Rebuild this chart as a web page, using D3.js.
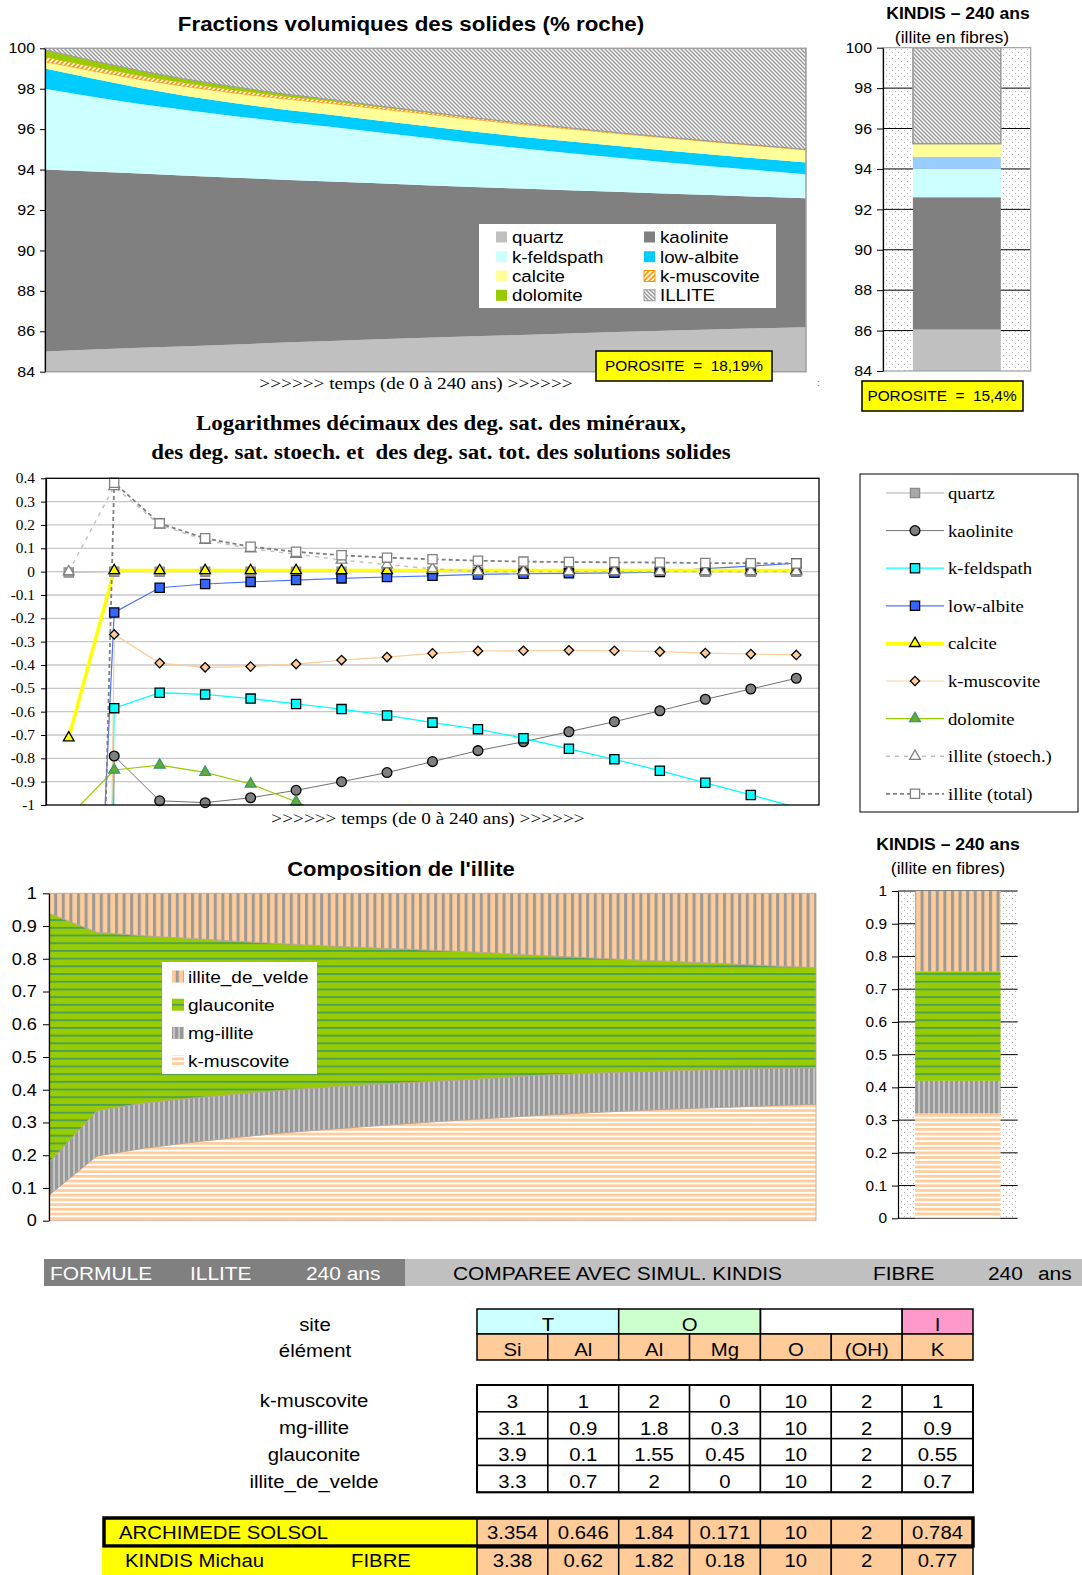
<!DOCTYPE html>
<html><head><meta charset="utf-8">
<script src="https://cdn.jsdelivr.net/npm/d3@7/dist/d3.min.js"></script>
<style>html,body{margin:0;padding:0;background:#fff;overflow:hidden}svg{display:block}</style>
</head><body>
<svg id="chart" width="1082" height="1575"></svg>
<script>
// ================= DATA =================
const years = [0,15,30,45,60,75,90,105,120,135,150,165,180,195,210,225,240];

// Chart 1 : fractions volumiques des solides (% roche), stacked
const volQuartz    = [85.00,85.10,85.18,85.26,85.34,85.44,85.52,85.60,85.68,85.75,85.82,85.89,85.96,86.03,86.09,86.15,86.20];
const volKaolinite = [9.00,8.80,8.62,8.44,8.26,8.06,7.89,7.72,7.55,7.39,7.24,7.09,6.94,6.79,6.65,6.51,6.38];
const volKfeld     = [4.00,3.70,3.45,3.23,3.04,2.87,2.71,2.53,2.35,2.16,1.99,1.84,1.70,1.56,1.43,1.31,1.19];
const volAlbite    = [1.00,0.90,0.78,0.70,0.64,0.60,0.59,0.58,0.58,0.58,0.58,0.58,0.58,0.58,0.58,0.58,0.58];
const volCalcite   = [0.33,0.38,0.42,0.46,0.50,0.53,0.56,0.58,0.59,0.60,0.60,0.61,0.61,0.62,0.62,0.62,0.62];
const volKmusc     = [0.23,0.21,0.19,0.17,0.15,0.13,0.12,0.10,0.09,0.08,0.07,0.06,0.05,0.04,0.04,0.03,0.03];
const volDolomite  = [0.36,0.30,0.25,0.20,0.16,0.12,0.08,0.05,0.03,0.01,0,0,0,0,0,0,0];
const volIllite    = [0.08,0.61,1.11,1.54,1.91,2.25,2.53,2.84,3.13,3.43,3.70,3.93,4.16,4.38,4.59,4.80,5.00];
const volNames     = ['quartz','kaolinite','k-feldspath','low-albite','calcite','k-muscovite','dolomite','ILLITE'];
const volTicks     = [84,86,88,90,92,94,96,98,100];
const porositeArchimede = 'POROSITE  =  18,19%';

// KINDIS bar (top)
const kindisVolNames = ['quartz','kaolinite','k-feldspath','low-albite','calcite','ILLITE'];
const kindisVol      = [86.05,6.55,1.40,0.60,0.65,4.75];
const porositeKindis = 'POROSITE  =  15,4%';

// Chart 2 : log10 saturation degrees
const satQuartz    = [-0.004,0,0,0,0,0,0,0,0,0,0,0,0,0,0,0,0];
const satKaolinite = [-20,-0.79,-0.982,-0.99,-0.969,-0.937,-0.90,-0.861,-0.814,-0.767,-0.729,-0.686,-0.643,-0.596,-0.547,-0.503,-0.457];
const satKfeld     = [-12,-0.585,-0.519,-0.526,-0.544,-0.567,-0.589,-0.616,-0.647,-0.675,-0.714,-0.759,-0.804,-0.853,-0.905,-0.957,-1.01];
const satAlbite    = [-4.3,-0.175,-0.069,-0.053,-0.044,-0.036,-0.029,-0.023,-0.018,-0.012,-0.009,-0.007,-0.005,-0.002,0.013,0.024,0.036];
const satCalcite   = [-0.712,0.005,0.005,0.005,0.005,0.005,0.005,0.005,0.005,0.005,0.005,0.005,0.005,0.005,0.005,0.005,0.005];
const satKmusc     = [-15,-0.269,-0.392,-0.41,-0.407,-0.396,-0.379,-0.366,-0.35,-0.34,-0.339,-0.337,-0.339,-0.343,-0.349,-0.353,-0.357];
const satDolomite  = [-1.05,-0.85,-0.829,-0.86,-0.91,-0.986,-1.07,null,null,null,null,null,null,null,null,null,null];
const satIlliteSt  = [0,0.365,0.2,0.135,0.098,0.075,0.05,0.03,0.012,0,0,0,0,0,0,0,0];
const satIlliteTot = [-7.1,0.381,0.207,0.143,0.107,0.085,0.07,0.06,0.053,0.047,0.043,0.041,0.04,0.039,0.037,0.036,0.035];
const satNames = ['quartz','kaolinite','k-feldspath','low-albite','calcite','k-muscovite','dolomite','illite (stoech.)','illite (total)'];
const satTicks = [-1,-0.9,-0.8,-0.7,-0.6,-0.5,-0.4,-0.3,-0.2,-0.1,0,0.1,0.2,0.3,0.4];

// Chart 3 : composition de l'illite (fractions, stacked)
const compKmusc  = [0.078,0.198,0.222,0.240,0.256,0.270,0.281,0.292,0.302,0.311,0.320,0.328,0.335,0.341,0.346,0.351,0.356];
const compMgIll  = [0.100,0.138,0.138,0.135,0.132,0.130,0.129,0.126,0.124,0.122,0.123,0.121,0.119,0.117,0.116,0.114,0.111];
const compGlauc  = [0.761,0.545,0.510,0.487,0.465,0.445,0.428,0.414,0.400,0.387,0.369,0.356,0.344,0.334,0.324,0.314,0.306];
const compVelde  = [0.061,0.119,0.130,0.138,0.147,0.155,0.162,0.168,0.174,0.180,0.188,0.195,0.202,0.208,0.214,0.221,0.227];
const compNames  = ['k-muscovite','mg-illite','glauconite','illite_de_velde'];
const compTicks  = [0,0.1,0.2,0.3,0.4,0.5,0.6,0.7,0.8,0.9,1];
const kindisComp = [0.32,0.10,0.335,0.245];

// Table
const bandLeft  = ['FORMULE','ILLITE','240 ans'];
const bandRight = ['COMPAREE AVEC SIMUL. KINDIS','FIBRE','240','ans'];
const siteLabels = ['T','O','','I'];
const siteSpans  = [2,2,2,1];
const elements   = ['Si','Al','Al','Mg','O','(OH)','K'];
const endMembers = ['k-muscovite','mg-illite','glauconite','illite_de_velde'];
const fKmusc = ['3','1','2','0','10','2','1'];
const fMgIll = ['3.1','0.9','1.8','0.3','10','2','0.9'];
const fGlauc = ['3.9','0.1','1.55','0.45','10','2','0.55'];
const fVelde = ['3.3','0.7','2','0','10','2','0.7'];
const archimede = ['3.354','0.646','1.84','0.171','10','2','0.784'];
const kindisF   = ['3.38','0.62','1.82','0.18','10','2','0.77'];

// ================= HELPERS =================
const SX = 1.1;
const SANS = '"Liberation Sans", Arial, sans-serif';
const SERIF = '"Liberation Serif", "Times New Roman", serif';
const svg = d3.select('#chart');
const defs = svg.append('defs');

function txt(sel, x, y, s, o = {}) {
  return sel.append('text')
    .attr('transform', `translate(${x},${y}) scale(${o.sx || SX},1)`)
    .attr('font-family', o.family || SANS)
    .attr('font-size', o.size || 14)
    .attr('font-weight', o.weight || 'normal')
    .attr('text-anchor', o.anchor || 'start')
    .attr('fill', o.fill || '#000')
    .style('white-space', 'pre')
    .text(s);
}
function styleAxis(g, size, family) {
  g.attr('font-family', null).attr('font-size', null);
  g.select('.domain').attr('stroke', '#000').attr('stroke-width', 1.2);
  g.selectAll('.tick line').attr('stroke', '#000');
  g.selectAll('.tick text').attr('font-family', family).attr('font-size', size)
    .attr('fill', '#000').attr('transform', `scale(${SX},1)`);
}
function pattern(id, w, h, fn) {
  const p = defs.append('pattern').attr('id', id).attr('patternUnits', 'userSpaceOnUse')
    .attr('width', w).attr('height', h);
  fn(p, w, h);
}
function clip(id, x, y, w, h) {
  defs.append('clipPath').attr('id', id).append('rect').attr('x', x).attr('y', y).attr('width', w).attr('height', h);
}
const fmt = v => Math.abs(v) < 1e-9 ? '0' : String(+v.toFixed(2));

// patterns
pattern('pIl', 4, 4, (p) => {
  p.append('rect').attr('width', 4).attr('height', 4).attr('fill', '#fff');
  p.append('path').attr('d', 'M-1,-1L5,5M-1,3L1,5M3,-1L5,1').attr('stroke', '#999').attr('stroke-width', 1.5);
});
pattern('pKmT', 5, 5, (p) => {
  p.append('rect').attr('width', 5).attr('height', 5).attr('fill', '#fff');
  p.append('path').attr('d', 'M-1,6L6,-1M-1,1L1,-1M4,6L6,4').attr('stroke', '#ff9900').attr('stroke-width', 1.8);
});
pattern('pDots', 6, 6, (p) => {
  p.append('rect').attr('width', 6).attr('height', 6).attr('fill', '#fff');
  p.append('rect').attr('x', 1).attr('y', 1).attr('width', 1).attr('height', 1).attr('fill', '#b4b4b4');
  p.append('rect').attr('x', 4).attr('y', 4).attr('width', 1).attr('height', 1).attr('fill', '#b4b4b4');
});
pattern('pKm', 8, 4.7, (p) => {
  p.append('rect').attr('width', 8).attr('height', 4.7).attr('fill', '#fff');
  p.append('rect').attr('width', 8).attr('height', 2.7).attr('fill', '#ffcc99');
});
pattern('pMg', 5, 8, (p) => {
  p.append('rect').attr('width', 5).attr('height', 8).attr('fill', '#999');
  p.append('rect').attr('x', 3).attr('width', 2).attr('height', 8).attr('fill', '#c4c4c4');
});
pattern('pGl', 8, 7.7, (p) => {
  p.append('rect').attr('width', 8).attr('height', 7.7).attr('fill', '#99cc00');
  p.append('rect').attr('y', 3).attr('width', 8).attr('height', 1.6).attr('fill', '#3d9966');
});
pattern('pVe', 7.6, 8, (p) => {
  p.append('rect').attr('width', 7.6).attr('height', 8).attr('fill', '#ffcc99');
  p.append('rect').attr('x', 1).attr('width', 3).attr('height', 8).attr('fill', '#999');
});

// ================= CHART 1 =================
{
  const P = { l: 45, r: 806, t: 48.3, b: 371.7 };
  const x = d3.scaleLinear().domain([0, 240]).range([P.l, P.r]);
  const y = d3.scaleLinear().domain([84, 100]).range([P.b, P.t]);
  const vals = [volQuartz, volKaolinite, volKfeld, volAlbite, volCalcite, volKmusc, volDolomite, volIllite];
  const fills = ['#c0c0c0', '#808080', '#ccffff', '#00ccff', '#ffff99', 'url(#pKmT)', '#99cc00', 'url(#pIl)'];
  const rows = years.map((t, i) => { const o = { t }; volNames.forEach((k, j) => o[k] = vals[j][i]); return o; });
  const series = d3.stack().keys(volNames)(rows);
  clip('c1', P.l, P.t, P.r - P.l, P.b - P.t);
  const g = svg.append('g');
  g.append('g').attr('clip-path', 'url(#c1)').selectAll('path').data(series).join('path')
    .attr('d', d3.area().x(d => x(d.data.t)).y0(d => y(d[0])).y1(d => y(d[1])))
    .attr('fill', (d, i) => fills[i])
    .attr('stroke', (d, i) => i === 7 ? '#999' : (i === 5 ? '#ff9900' : 'none'))
    .attr('stroke-width', (d, i) => i === 5 ? 0.6 : 1);
  g.append('rect').attr('x', P.l).attr('y', P.t).attr('width', P.r - P.l).attr('height', P.b - P.t)
    .attr('fill', 'none').attr('stroke', '#a0a0a0').attr('stroke-width', 1.5);
  const ax = g.append('g').attr('transform', `translate(${P.l},0)`)
    .call(d3.axisLeft(y).tickValues(volTicks).tickSize(5).tickSizeOuter(0).tickPadding(4));
  styleAxis(ax, 14.5, SANS);
  txt(svg, 411, 31, 'Fractions volumiques des solides (% roche)', { size: 20.3, weight: 'bold', anchor: 'middle' });
  txt(svg, 416, 389, '>>>>>> temps (de 0 à 240 ans) >>>>>>', { size: 17.5, family: SERIF, anchor: 'middle' });
  txt(svg, 817, 386, ':', { size: 9, fill: '#666' });
  // legend
  const L = g.append('g');
  L.append('rect').attr('x', 479).attr('y', 224).attr('width', 297).attr('height', 84).attr('fill', '#fff');
  const lx = [496, 644], ly = [237, 256.7, 276, 295.3];
  volNames.forEach((k, j) => {
    const cx = lx[j % 2], cy = ly[Math.floor(j / 2)];
    L.append('rect').attr('x', cx).attr('y', cy - 5.5).attr('width', 11).attr('height', 11)
      .attr('fill', fills[j]).attr('stroke', j === 7 ? '#999' : (j === 5 ? '#ff9900' : 'none'));
    txt(L, cx + 16, cy + 6, k, { size: 17 });
  });
  // porosite box
  g.append('rect').attr('x', 596).attr('y', 351).attr('width', 176).attr('height', 30)
    .attr('fill', '#ffff00').attr('stroke', '#000').attr('stroke-width', 1.5);
  txt(g, 684, 371, porositeArchimede, { size: 14, anchor: 'middle' });
}

// ================= KINDIS bar (top) =================
{
  const P = { l: 883, r: 1030.7, t: 47.7, b: 371 };
  const y = d3.scaleLinear().domain([84, 100]).range([P.b, P.t]);
  const x = d3.scaleBand().domain(['KINDIS']).range([P.l, P.r]).paddingInner(0).paddingOuter(0.34);
  const fills = ['#c0c0c0', '#808080', '#ccffff', '#99ccff', '#ffff99', 'url(#pIl)'];
  const row = { k: 'KINDIS' }; kindisVolNames.forEach((n, i) => row[n] = kindisVol[i]);
  const st = d3.stack().keys(kindisVolNames)([row]);
  const g = svg.append('g');
  g.append('rect').attr('x', P.l).attr('y', P.t).attr('width', P.r - P.l).attr('height', P.b - P.t).attr('fill', 'url(#pDots)');
  g.selectAll('line.grid').data(volTicks.filter(v => v > 84 && v < 100)).join('line')
    .attr('x1', P.l).attr('x2', P.r).attr('y1', d => y(d)).attr('y2', d => y(d)).attr('stroke', '#000').attr('stroke-width', 1);
  clip('c1b', P.l, P.t, P.r - P.l, P.b - P.t);
  g.append('g').attr('clip-path', 'url(#c1b)').selectAll('rect').data(st).join('rect')
    .attr('x', x('KINDIS')).attr('width', x.bandwidth())
    .attr('y', d => y(d[0][1])).attr('height', d => y(Math.max(d[0][0], 80)) - y(d[0][1]))
    .attr('fill', (d, i) => fills[i]).attr('stroke', (d, i) => i === 5 ? '#999' : 'none').attr('stroke-width', 1.5);
  g.append('rect').attr('x', P.l).attr('y', P.t).attr('width', P.r - P.l).attr('height', P.b - P.t)
    .attr('fill', 'none').attr('stroke', '#a0a0a0').attr('stroke-width', 1.2);
  const ax = g.append('g').attr('transform', `translate(${P.l},0)`)
    .call(d3.axisLeft(y).tickValues(volTicks).tickSize(6).tickSizeOuter(0).tickPadding(4));
  styleAxis(ax, 14.5, SANS);
  txt(svg, 958, 19, 'KINDIS – 240 ans', { size: 16, weight: 'bold', anchor: 'middle' });
  txt(svg, 952, 43, '(illite en fibres)', { size: 16, anchor: 'middle' });
  g.append('rect').attr('x', 862).attr('y', 381).attr('width', 161).attr('height', 30)
    .attr('fill', '#ffff00').attr('stroke', '#000').attr('stroke-width', 1.5);
  txt(g, 942, 401, porositeKindis, { size: 14, anchor: 'middle' });
}

// ================= CHART 2 =================
{
  const P = { l: 46, r: 819, t: 478.3, b: 805 };
  const x = d3.scalePoint().domain(years).range([P.l, P.r]).padding(0.5);
  const y = d3.scaleLinear().domain([-1, 0.4]).range([P.b, P.t]);
  const vals = [satQuartz, satKaolinite, satKfeld, satAlbite, satCalcite, satKmusc, satDolomite, satIlliteSt, satIlliteTot];
  const sty = [
    { line: '#c8c8c8', w: 1.3, sym: 'square', fill: '#a8a8a8', stroke: '#8a8a8a' },
    { line: '#707070', w: 1, sym: 'circle', fill: '#7f7f7f', stroke: '#000' },
    { line: '#00ffff', w: 1.3, sym: 'square', fill: '#00ffff', stroke: '#000' },
    { line: '#4a74ff', w: 1.2, sym: 'square', fill: '#3366ff', stroke: '#000' },
    { line: '#ffff00', w: 3.5, sym: 'triangle', fill: '#ffff00', stroke: '#000' },
    { line: '#ffcc99', w: 1.2, sym: 'diamond', fill: '#ffcc99', stroke: '#000' },
    { line: '#99cc00', w: 1.2, sym: 'triangle', fill: '#66aa33', stroke: '#339966' },
    { line: '#c0c0c0', w: 1.4, dash: '4,5', sym: 'triangle', fill: '#fff', stroke: '#808080' },
    { line: '#808080', w: 1.8, dash: '4,3', sym: 'square', fill: '#fff', stroke: '#808080' }
  ];
  const symPath = {
    square: d3.symbol(d3.symbolSquare, 85)(),
    circle: d3.symbol(d3.symbolCircle, 75)(),
    triangle: d3.symbol(d3.symbolTriangle, 50)(),
    diamond: d3.symbol(d3.symbolSquare, 44)()
  };
  const g = svg.append('g');
  g.selectAll('line.grid').data(satTicks.filter(v => v > -1 && v < 0.4)).join('line')
    .attr('x1', P.l).attr('x2', P.r).attr('y1', d => y(d)).attr('y2', d => y(d))
    .attr('stroke', '#c8c8c8').attr('stroke-width', 1.3);
  clip('c2', P.l, P.t, P.r - P.l, P.b - P.t);
  const lines = g.append('g').attr('clip-path', 'url(#c2)');
  const mk = g.append('g');
  vals.forEach((arr, s) => {
    const st = sty[s];
    const data = arr.map((v, i) => ({ t: years[i], v }));
    lines.append('path').datum(data)
      .attr('d', d3.line().defined(d => d.v !== null).x(d => x(d.t)).y(d => y(d.v)))
      .attr('fill', 'none').attr('stroke', st.line).attr('stroke-width', st.w)
      .attr('stroke-dasharray', st.dash || null);
    mk.selectAll(null).data(data.filter(d => d.v !== null && d.v >= -1.005 && d.v <= 0.41)).join('path')
      .attr('d', symPath[st.sym])
      .attr('transform', d => `translate(${x(d.t)},${y(d.v)})` + (st.sym === 'diamond' ? ' rotate(45)' : ''))
      .attr('fill', st.fill).attr('stroke', st.stroke).attr('stroke-width', 1.3);
  });
  g.append('rect').attr('x', P.l).attr('y', P.t).attr('width', P.r - P.l).attr('height', P.b - P.t)
    .attr('fill', 'none').attr('stroke', '#000').attr('stroke-width', 1.3);
  const ax = g.append('g').attr('transform', `translate(${P.l},0)`)
    .call(d3.axisLeft(y).tickValues(satTicks).tickFormat(fmt).tickSize(5).tickSizeOuter(0).tickPadding(5));
  styleAxis(ax, 14, SERIF);
  txt(svg, 441, 430, 'Logarithmes décimaux des deg. sat. des minéraux,', { size: 20.8, weight: 'bold', family: SERIF, anchor: 'middle' });
  txt(svg, 441, 459, 'des deg. sat. stoech. et  des deg. sat. tot. des solutions solides', { size: 20.8, weight: 'bold', family: SERIF, anchor: 'middle' });
  txt(svg, 428, 824, '>>>>>> temps (de 0 à 240 ans) >>>>>>', { size: 17.5, family: SERIF, anchor: 'middle' });
  // legend
  const L = svg.append('g');
  L.append('rect').attr('x', 860).attr('y', 474).attr('width', 218).attr('height', 338)
    .attr('fill', '#fff').attr('stroke', '#000').attr('stroke-width', 1);
  satNames.forEach((n, i) => {
    const st = sty[i], cy = 493 + i * 37.6;
    L.append('line').attr('x1', 886).attr('x2', 944).attr('y1', cy).attr('y2', cy)
      .attr('stroke', st.line).attr('stroke-width', st.w).attr('stroke-dasharray', st.dash || null);
    L.append('path').attr('d', symPath[st.sym])
      .attr('transform', `translate(915,${cy})` + (st.sym === 'diamond' ? ' rotate(45)' : ''))
      .attr('fill', st.fill).attr('stroke', st.stroke).attr('stroke-width', 1.3);
    txt(L, 948, cy + 6, n, { size: 17, family: SERIF });
  });
}

// ================= CHART 3 =================
{
  const P = { l: 49, r: 816, t: 893.3, b: 1220.7 };
  const x = d3.scaleLinear().domain([0, 240]).range([P.l, P.r]);
  const y = d3.scaleLinear().domain([0, 1]).range([P.b, P.t]);
  const vals = [compKmusc, compMgIll, compGlauc, compVelde];
  const fills = ['url(#pKm)', 'url(#pMg)', 'url(#pGl)', 'url(#pVe)'];
  const rows = years.map((t, i) => { const o = { t }; compNames.forEach((k, j) => o[k] = vals[j][i]); return o; });
  const series = d3.stack().keys(compNames)(rows);
  const g = svg.append('g');
  g.selectAll('path').data(series).join('path')
    .attr('d', d3.area().x(d => x(d.data.t)).y0(d => y(d[0])).y1(d => y(d[1])))
    .attr('fill', (d, i) => fills[i]).attr('stroke', '#b9a592').attr('stroke-width', 0.8);
  const ax = g.append('g').attr('transform', `translate(${P.l},0)`)
    .call(d3.axisLeft(y).tickValues(compTicks).tickFormat(fmt).tickSize(6).tickSizeOuter(0).tickPadding(5));
  styleAxis(ax, 16.5, SANS);
  txt(svg, 401, 876, "Composition de l'illite", { size: 20, weight: 'bold', anchor: 'middle' });
  const L = svg.append('g');
  L.append('rect').attr('x', 162).attr('y', 962).attr('width', 155).attr('height', 112).attr('fill', '#fff');
  const order = [3, 2, 1, 0];
  order.forEach((j, r) => {
    const cy = 976.5 + r * 28.2;
    L.append('rect').attr('x', 172).attr('y', cy - 6).attr('width', 12).attr('height', 12).attr('fill', fills[j]);
    txt(L, 188, cy + 6, compNames[j], { size: 17.3 });
  });
}

// ================= KINDIS bar (bottom) =================
{
  const P = { l: 898, r: 1017.7, t: 891, b: 1218.3 };
  const y = d3.scaleLinear().domain([0, 1]).range([P.b, P.t]);
  const x = d3.scaleBand().domain(['KINDIS']).range([P.l, P.r]).paddingInner(0).paddingOuter(0.2);
  const fills = ['url(#pKm)', 'url(#pMg)', 'url(#pGl)', 'url(#pVe)'];
  const row = { k: 'KINDIS' }; compNames.forEach((n, i) => row[n] = kindisComp[i]);
  const st = d3.stack().keys(compNames)([row]);
  const g = svg.append('g');
  g.append('rect').attr('x', P.l).attr('y', P.t).attr('width', P.r - P.l).attr('height', P.b - P.t).attr('fill', 'url(#pDots)');
  g.selectAll('line.grid').data(compTicks).join('line')
    .attr('x1', P.l).attr('x2', P.r).attr('y1', d => y(d)).attr('y2', d => y(d)).attr('stroke', '#000').attr('stroke-width', 1);
  g.selectAll('rect.bar').data(st).join('rect')
    .attr('x', x('KINDIS')).attr('width', x.bandwidth())
    .attr('y', d => y(d[0][1])).attr('height', d => y(d[0][0]) - y(d[0][1]))
    .attr('fill', (d, i) => fills[i]);
  const ax = g.append('g').attr('transform', `translate(${P.l},0)`)
    .call(d3.axisLeft(y).tickValues(compTicks).tickFormat(fmt).tickSize(6).tickSizeOuter(0).tickPadding(4));
  styleAxis(ax, 14, SANS);
  txt(svg, 948, 850, 'KINDIS – 240 ans', { size: 16, weight: 'bold', anchor: 'middle' });
  txt(svg, 948, 874, '(illite en fibres)', { size: 16, anchor: 'middle' });
}

// ================= TABLE =================
{
  const g = svg.append('g');
  g.append('rect').attr('x', 44).attr('y', 1259).attr('width', 361).attr('height', 27).attr('fill', '#808080');
  g.append('rect').attr('x', 405).attr('y', 1259).attr('width', 677).attr('height', 27).attr('fill', '#c0c0c0');
  [50, 190, 306].forEach((xx, i) => txt(g, xx, 1279.5, bandLeft[i], { size: 19, fill: '#fff' }));
  [453, 873, 988, 1038].forEach((xx, i) => txt(g, xx, 1279.5, bandRight[i], { size: 19 }));

  const col = d3.scaleBand().domain(d3.range(7)).range([477, 973]);
  const cw = col.bandwidth();
  const cell = (x, y, w, h, fill, sw) => g.append('rect').attr('x', x).attr('y', y).attr('width', w).attr('height', h)
    .attr('fill', fill).attr('stroke', '#000').attr('stroke-width', sw || 1.5);
  // site row
  const siteFill = ['#ccffff', '#ccffcc', 'none', '#ff99cc'];
  let c0 = 0;
  siteLabels.forEach((s, i) => {
    const x0 = col(c0), w = cw * siteSpans[i];
    cell(x0, 1309, w, 25, siteFill[i]);
    if (s) txt(g, x0 + w / 2, 1330.5, s, { size: 18.5, anchor: 'middle' });
    c0 += siteSpans[i];
  });
  // element row
  elements.forEach((e, i) => {
    cell(col(i), 1334, cw, 26, '#ffcc99');
    txt(g, col(i) + cw / 2, 1356, e, { size: 18.5, anchor: 'middle' });
  });
  txt(g, 315, 1331, 'site', { size: 18.5, anchor: 'middle' });
  txt(g, 315, 1356.5, 'élément', { size: 18.5, anchor: 'middle' });
  // end-member formulas
  const forms = [fKmusc, fMgIll, fGlauc, fVelde];
  const rowY = d3.scaleBand().domain(d3.range(4)).range([1385, 1492.3]);
  forms.forEach((f, r) => {
    const y0 = rowY(r), h = rowY.bandwidth();
    f.forEach((v, i) => {
      cell(col(i), y0, cw, h, '#fff');
      txt(g, col(i) + cw / 2, y0 + h - 4, v, { size: 18.5, anchor: 'middle' });
    });
    txt(g, 314, y0 + h - 4.5, endMembers[r], { size: 18.5, anchor: 'middle' });
  });
  g.append('rect').attr('x', 477).attr('y', 1385).attr('width', 496).attr('height', 107.3)
    .attr('fill', 'none').attr('stroke', '#000').attr('stroke-width', 2);
  // ARCHIMEDE row
  g.append('rect').attr('x', 103).attr('y', 1518).attr('width', 374).attr('height', 28).attr('fill', '#ffff00');
  archimede.forEach((v, i) => {
    cell(col(i), 1518, cw, 28, '#ffcc99');
    txt(g, col(i) + cw / 2, 1539, v, { size: 18.5, anchor: 'middle' });
  });
  g.append('rect').attr('x', 104).attr('y', 1518).attr('width', 869).attr('height', 28)
    .attr('fill', 'none').attr('stroke', '#000').attr('stroke-width', 3.5);
  txt(g, 119, 1538.5, 'ARCHIMEDE SOLSOL', { size: 18.5 });
  // KINDIS row
  g.append('rect').attr('x', 102).attr('y', 1547.8).attr('width', 375).attr('height', 30).attr('fill', '#ffff00');
  kindisF.forEach((v, i) => {
    cell(col(i), 1547.8, cw, 30, '#ffcc99');
    txt(g, col(i) + cw / 2, 1567, v, { size: 18.5, anchor: 'middle' });
  });
  txt(g, 125, 1567, 'KINDIS Michau', { size: 18.5 });
  txt(g, 351, 1567, 'FIBRE', { size: 18.5 });
}
</script>
</body></html>
